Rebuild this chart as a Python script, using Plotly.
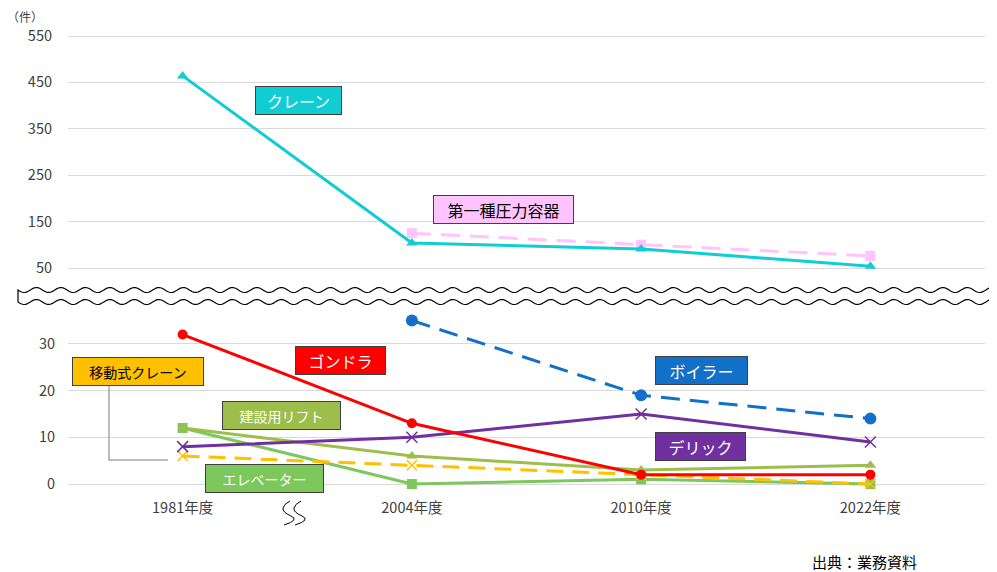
import math
import plotly.graph_objects as go

W, H = 997, 572
OFF = 8  # page body margin offset of the plot div
ML, MR, MT, MB = 60, 20, 12, 68
PW, PH = W - ML - MR, H - MT - MB

years = ["1981年度", "2004年度", "2010年度", "2022年度"]

# upper panel (large values)
crane = [464, 104, 91, 54]
pressure_vessel = [None, 125, 100, 76]
# lower panel (small values)
boiler = [None, 35, 19, 14]
gondola = [32, 13, 2, 2]
derrick = [8, 10, 15, 9]
lift = [12, 6, 3, 4]
mobile_crane = [6, 4, 2, 0]
elevator = [12, 0, 1, 0]

upper_ticks = [50, 150, 250, 350, 450, 550]
lower_ticks = [0, 10, 20, 30]


def px(x):
    """screen pixel x -> paper fraction"""
    return (x - OFF - ML) / PW


def py(y):
    """screen pixel y -> paper fraction"""
    return (H - MB - (y - OFF)) / PH


FONT = "Noto Sans CJK JP"

fig = go.Figure()


def add(y, name, color, symbol, dash, msize, axis, mline=None):
    marker = dict(symbol=symbol, size=msize, color=color)
    if mline:
        marker["line"] = dict(color=color, width=1.5)
    fig.add_trace(go.Scatter(
        x=years, y=y, name=name, mode="lines+markers",
        line=dict(color=color, width=3, dash=dash),
        marker=marker, xaxis="x" if axis == 1 else "x2",
        yaxis="y" if axis == 1 else "y2", cliponaxis=False,
        connectgaps=False, showlegend=False))


# lower panel
add(elevator, "エレベーター", "#7CC85C", "square", "solid", 10, 1)
add(mobile_crane, "移動式クレーン", "#FFC000", "x-thin", "17px,9px", 10, 1, mline=True)
add(lift, "建設用リフト", "#9DBE4A", "triangle-up", "solid", 10, 1)
add(derrick, "デリック", "#7030A0", "x-thin", "solid", 11, 1, mline=True)
add(gondola, "ゴンドラ", "#FF0000", "circle", "solid", 10, 1)
add(boiler, "ボイラー", "#1270C8", "circle", "19px,10px", 12, 1)
# upper panel
add(pressure_vessel, "第一種圧力容器", "#FFC4FF", "square", "19px,10px", 10, 2)
add(crane, "クレーン", "#12CCD4", "triangle-up", "solid", 10, 2)

# axis ranges computed to place gridlines
lower_range = [-2, 36]
upper_range = [40, 560]
lower_dom = [py(484 + 2 * 4.67), py(484 - 36 * 4.67)]
upper_dom = [py(268 + 10 * 0.464), py(36 - 10 * 0.464)]

tickfont = dict(family=FONT, size=14.5, color="#404040")
fig.update_layout(
    width=W, height=H,
    margin=dict(l=ML, r=MR, t=MT, b=MB, autoexpand=False),
    paper_bgcolor="white", plot_bgcolor="white",
    font=dict(family=FONT, color="#404040"),
    xaxis=dict(type="category", range=[-0.5, 3.5], domain=[0, 1],
               showgrid=False, showline=False, ticks="", automargin=False,
               tickfont=tickfont, anchor="y", ticklabelstandoff=4),
    yaxis=dict(domain=lower_dom, range=lower_range, tickvals=lower_ticks,
               showgrid=True, gridcolor="#D9D9D9", gridwidth=1,
               zeroline=False, showline=False, tickfont=tickfont,
               automargin=False, anchor="x", ticklabelstandoff=12),
    xaxis2=dict(type="category", range=[-0.5, 3.5], domain=[0, 1],
                matches="x", showticklabels=False, showgrid=False,
                showline=False, ticks="", anchor="y2", automargin=False),
    yaxis2=dict(domain=upper_dom, range=upper_range, tickvals=upper_ticks,
                showgrid=True, gridcolor="#D9D9D9", gridwidth=1,
                zeroline=False, showline=False, tickfont=tickfont,
                automargin=False, anchor="x2", ticklabelstandoff=15),
)

shapes = []

# wavy axis break band
def wave(y0, x_start, x_end, reverse=False):
    pts = []
    x = x_start
    while x <= x_end + 0.01:
        pts.append((x, y0 + 2.5 * math.sin(2 * math.pi * (x - x_start) / 24.5)))
        x += 1.5
    if reverse:
        pts = pts[::-1]
    return pts

top = wave(290, 18, 1010)
bot = wave(302, 18, 1010, reverse=True)
path = "M " + " L ".join(f"{px(a):.5f},{py(b):.5f}" for a, b in top)
path += " L " + " L ".join(f"{px(a):.5f},{py(b):.5f}" for a, b in bot) + " Z"
shapes.append(dict(type="path", path=path, xref="paper", yref="paper",
                   fillcolor="white", line=dict(color="#000000", width=1.2),
                   layer="above"))

# x-axis break squiggles
def squiggle(x0):
    p = [(x0 + 7, 501), (x0 + 1, 504), (x0 + 0, 508), (x0 + 4, 512),
         (x0 + 8, 516), (x0 + 7, 521), (x0 + 1, 525)]
    return "M {},{} Q {},{} {},{} T {},{} T {},{}".format(
        px(p[0][0]), py(p[0][1]), px(p[1][0]), py(p[1][1]),
        px(p[2][0]), py(p[2][1]), px(p[4][0]), py(p[4][1]),
        px(p[6][0]), py(p[6][1]))

for x0 in (283, 294):
    shapes.append(dict(type="path", path=squiggle(x0), xref="paper", yref="paper",
                       line=dict(color="#000000", width=1)))

# leader line for mobile crane label
lead = f"M {px(109)},{py(384)} L {px(109)},{py(460)} L {px(168)},{py(460)}"
shapes.append(dict(type="path", path=lead, xref="paper", yref="paper",
                   line=dict(color="#A6A6A6", width=1.5)))

fig.update_layout(shapes=shapes)

labels = [
    ("クレーン", 298, 100, 87, "#12CCD4", "white", 16),
    ("第一種圧力容器", 503, 209, 141, "#FFC4FF", "#000000", 16),
    ("ゴンドラ", 340, 360, 91, "#FF0000", "white", 16),
    ("移動式クレーン", 138, 371, 132, "#FFC000", "#000000", 14),
    ("建設用リフト", 281, 415, 119, "#9DBE4A", "white", 14),
    ("エレベーター", 264, 479, 119, "#7CC85C", "white", 14),
    ("ボイラー", 701, 370, 93, "#1270C8", "white", 16),
    ("デリック", 700, 446, 91, "#7030A0", "white", 16),
]
for text, cx, cy, w, bg, fc, fs in labels:
    fig.add_annotation(x=px(cx), y=py(cy), xref="paper", yref="paper",
                       xanchor="center", yanchor="middle",
                       text=text, showarrow=False, bgcolor=bg,
                       bordercolor="#404040", borderwidth=1, borderpad=1,
                       width=w - 4, height=25, align="center",
                       font=dict(family=FONT, size=fs, color=fc))

fig.add_annotation(x=px(6), y=py(16.5), xref="paper", yref="paper",
                   xanchor="left", yanchor="middle", borderpad=0,
                   text="（件）", showarrow=False,
                   font=dict(family=FONT, size=12, color="#404040"))
fig.add_annotation(x=px(810), y=py(561), xref="paper", yref="paper",
                   xanchor="left", yanchor="middle",
                   text="出典：業務資料", showarrow=False,
                   font=dict(family=FONT, size=15, color="#000000"))

fig.write_html("out.html")
